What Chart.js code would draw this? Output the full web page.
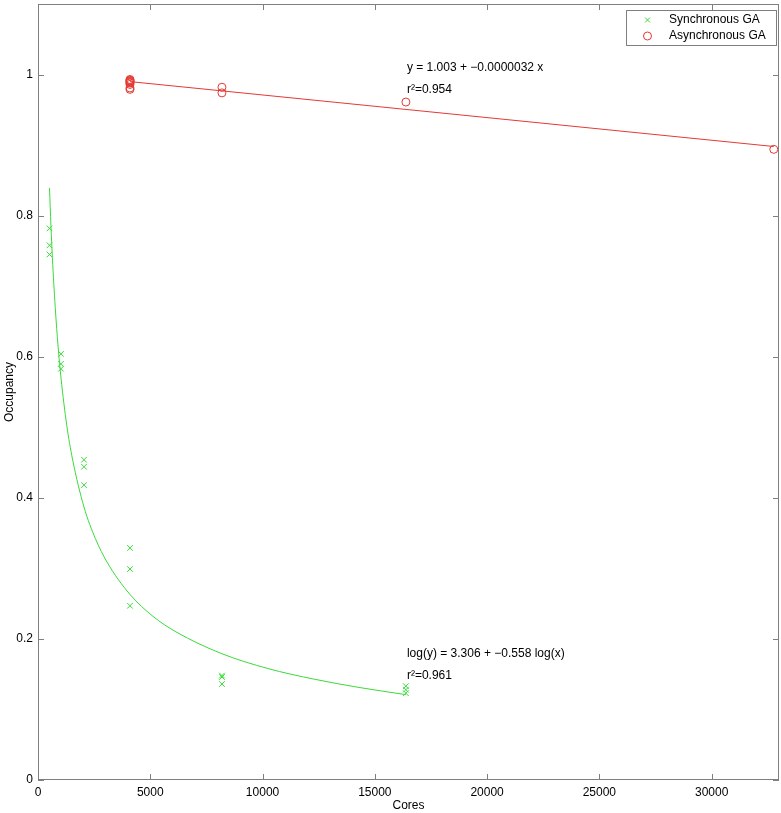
<!DOCTYPE html>
<html>
<head>
<meta charset="utf-8">
<script src="https://cdn.jsdelivr.net/npm/chart.js@4/dist/chart.umd.min.js"></script>
<style>
html,body{margin:0;padding:0;background:#fff;}
#wrap{width:781px;height:813px;position:relative;}
</style>
</head>
<body>
<div id="wrap"><canvas id="c" width="781" height="813"></canvas></div>
<script>
// ---- data ----
const seriesNames = ['Synchronous GA', 'Asynchronous GA'];
const syncCores = [512,512,512, 1024,1024,1024, 2048,2048,2048, 4096,4096,4096, 8192,8192,8192, 16384,16384,16384];
const syncOcc   = [0.782,0.758,0.745, 0.604,0.590,0.583, 0.454,0.444,0.418, 0.329,0.299,0.247, 0.148,0.146,0.136, 0.133,0.128,0.123];
const asyncCores = [4096,4096,4096,4096,4096,4096,4096,4096,4096, 8192,8192, 16384, 32768];
const asyncOcc   = [0.993,0.992,0.991,0.990,0.989,0.988,0.986,0.981,0.979, 0.982,0.974, 0.961, 0.894];
const linFitCores = [4096, 32768];
const linFitOcc   = [0.990, 0.898];
const logFitCores = [512,576,640,768,896,1024,1280,1536,2048,2560,3072,4096,5120,6144,8192,10240,12288,14336,16384];
const logFitOcc   = [0.839,0.786,0.741,0.670,0.614,0.570,0.503,0.455,0.387,0.342,0.309,0.263,0.232,0.210,0.179,0.158,0.143,0.131,0.121];
const xTicks = [0,5000,10000,15000,20000,25000,30000];
const yTicks = [0,0.2,0.4,0.6,0.8,1];
const xAxisTitle = 'Cores';
const yAxisTitle = 'Occupancy';
const annotations = [
  {x:16384, y:1.010, text:'y = 1.003 + \u22120.0000032 x'},
  {x:16384, y:0.979, text:'r\u00B2=0.954'},
  {x:16384, y:0.179, text:'log(y) = 3.306 + \u22120.558 log(x)'},
  {x:16384, y:0.148, text:'r\u00B2=0.961'}
];

const GREEN = '#3ada3a';
const RED = '#e33a33';
const FONT = "'Liberation Sans', Arial, Helvetica, sans-serif";

const pts = (xs, ys) => xs.map((x,i)=>({x:x, y:ys[i]}));
const zeroPad = s => { s.paddingLeft = 0; s.paddingRight = 0; s.paddingTop = 0; s.paddingBottom = 0; };

const fixRight = {
  id:'fixRight',
  afterLayout(chart){
    const R = chart.width - 2;
    const xs = chart.scales.x;
    chart.chartArea.right = R;
    chart.chartArea.width = R - chart.chartArea.left;
    xs.right = R;
    xs.width = R - xs.left;
    xs.configure();
  }
};

const frame = {
  id:'frame',
  afterDraw(chart){
    const ctx = chart.ctx, a = chart.chartArea;
    const xs = chart.scales.x, ys = chart.scales.y;
    ctx.save();
    ctx.strokeStyle = '#7f7f7f';
    ctx.lineWidth = 1;
    ctx.strokeRect(Math.round(a.left)+0.5, Math.round(a.top)+0.5, Math.round(a.right-a.left)-1, Math.round(a.bottom-a.top)-1);
    const L = 6;
    ctx.beginPath();
    xTicks.forEach(v=>{
      const p = Math.round(xs.getPixelForValue(v))+0.5;
      ctx.moveTo(p, a.bottom); ctx.lineTo(p, a.bottom-L);
      ctx.moveTo(p, a.top); ctx.lineTo(p, a.top+L);
    });
    yTicks.forEach(v=>{
      const p = Math.round(ys.getPixelForValue(v))+0.5;
      ctx.moveTo(a.left, p); ctx.lineTo(a.left+L, p);
      ctx.moveTo(a.right, p); ctx.lineTo(a.right-L, p);
    });
    ctx.stroke();
    // annotations
    ctx.fillStyle = '#000';
    ctx.font = '12px ' + FONT;
    ctx.textBaseline = 'middle';
    ctx.textAlign = 'left';
    annotations.forEach(t=>{
      ctx.fillText(t.text, xs.getPixelForValue(t.x)+1, ys.getPixelForValue(t.y));
    });
    // legend
    const bx = 626, by = 10, bw = 150, bh = 35;
    ctx.fillStyle = '#fff';
    ctx.fillRect(bx, by, bw, bh);
    ctx.strokeStyle = '#7f7f7f';
    ctx.strokeRect(bx+0.5, by+0.5, bw, bh);
    const rows = [by+10, by+26];
    ctx.strokeStyle = GREEN; ctx.lineWidth = 1;
    ctx.beginPath();
    ctx.moveTo(645, rows[0]-2.5); ctx.lineTo(650, rows[0]+2.5);
    ctx.moveTo(650, rows[0]-2.5); ctx.lineTo(645, rows[0]+2.5);
    ctx.stroke();
    ctx.strokeStyle = RED;
    ctx.beginPath(); ctx.arc(647.5, rows[1], 4, 0, Math.PI*2); ctx.stroke();
    ctx.fillStyle = '#000';
    ctx.fillText(seriesNames[0], 669, rows[0]);
    ctx.fillText(seriesNames[1], 669, rows[1]);
    ctx.restore();
  }
};

new Chart(document.getElementById('c'), {
  type:'scatter',
  data:{
    datasets:[
      {label:seriesNames[0], data:pts(syncCores, syncOcc), pointStyle:'crossRot', pointRadius:4, borderColor:GREEN, backgroundColor:GREEN, borderWidth:1, showLine:false},
      {label:seriesNames[1], data:pts(asyncCores, asyncOcc), pointStyle:'circle', pointRadius:4, borderColor:RED, backgroundColor:'rgba(0,0,0,0)', borderWidth:1, showLine:false},
      {label:'linfit', data:pts(linFitCores, linFitOcc), showLine:true, pointRadius:0, borderColor:RED, borderWidth:1},
      {label:'logfit', data:pts(logFitCores, logFitOcc), showLine:true, pointRadius:0, borderColor:GREEN, borderWidth:1, cubicInterpolationMode:'monotone'}
    ]
  },
  options:{
    responsive:false,
    animation:false,
    layout:{autoPadding:false, padding:{top:4, right:2, left:0, bottom:0}},
    plugins:{legend:{display:false}, tooltip:{enabled:false}},
    scales:{
      x:{
        type:'linear', min:0, max:33000,
        afterBuildTicks: s => { s.ticks = xTicks.map(v=>({value:v})); },
        afterFit: s => { s.height = 33; zeroPad(s); },
        grid:{display:false, drawTicks:false},
        border:{display:false},
        ticks:{color:'#000', padding:5, font:{family:FONT, size:12}, autoSkip:false, maxRotation:0, callback:v=>String(v)},
        title:{display:true, text:xAxisTitle, color:'#000', font:{family:FONT, size:12}, padding:{top:0,bottom:0}}
      },
      y:{
        type:'linear', min:0, max:1.1,
        afterBuildTicks: s => { s.ticks = yTicks.map(v=>({value:v})); },
        afterFit: s => { s.width = 38; zeroPad(s); },
        grid:{display:false, drawTicks:false},
        border:{display:false},
        ticks:{color:'#000', padding:5, font:{family:FONT, size:12}, autoSkip:false, callback:v=>String(Math.round(v*10)/10)},
        title:{display:true, text:yAxisTitle, color:'#000', font:{family:FONT, size:12}, padding:{top:2,bottom:0}}
      }
    }
  },
  plugins:[fixRight, frame]
});
</script>
</body>
</html>
